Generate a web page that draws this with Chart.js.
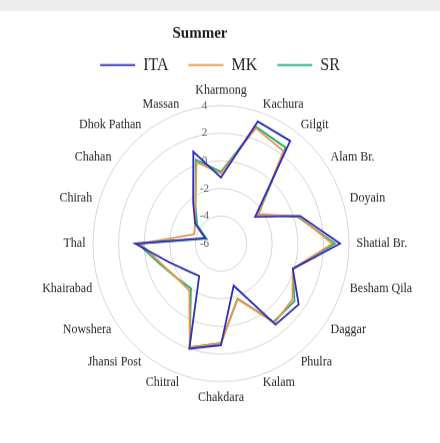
<!DOCTYPE html>
<html>
<head>
<meta charset="utf-8">
<title>Summer</title>
<script src="https://cdn.jsdelivr.net/npm/chart.js@4.4.1/dist/chart.umd.min.js"></script>
<style>
  html, body { margin: 0; padding: 0; background: #fff; }
  body { width: 440px; height: 443px; position: relative; overflow: hidden; }
  .top-strip { position: absolute; left: 0; top: 0; width: 440px; height: 11px; background: #ececec; }
  /* the plot is a little taller than wide, so the whole chart is stretched vertically */
  .chart-box { position: absolute; left: 0; top: 0; width: 440px; height: 411px; transform: scaleY(1.078); transform-origin: 0 0; }
</style>
</head>
<body>
<div class="top-strip"></div>
<div class="chart-box"><canvas id="radarChart"></canvas></div>
<script>
// stations, clockwise from the top
const stations = ['Kharmong', 'Kachura', 'Gilgit', 'Alam Br.', 'Doyain', 'Shatial Br.', 'Besham Qila',
  'Daggar', 'Phulra', 'Kalam', 'Chakdara', 'Chitral', 'Jhansi Post', 'Nowshera', 'Khairabad', 'Thal',
  'Chirah', 'Chahan', 'Dhok Pathan', 'Massan'];

// summer trend values per test
const itaValues = [-1.2, 3.3, 3.2, -2.7, 0.5, 3.3, -0.1, 1.5, 1.25, -2.8, 1.35, 2.0, -3.1, -2.7, -1.7, 0.7, -4.7, -3.5, -2.3, 1.0];
const mkValues = [-0.9, 2.8, 2.3, -2.4, 0.4, 2.7, -0.1, 0.9, 1.1, -1.8, 1.2, 1.9, -1.8, -1.75, -1.15, 0.3, -3.8, -3.5, -2.6, 0.2];
const srValues = [-0.8, 2.9, 2.6, -2.4, 0.3, 2.9, -0.1, 1.1, 1.0, -1.8, 1.2, 1.9, -2.0, -1.75, -1.05, 0.5, -4.8, -3.7, -2.6, 0.4];

const axisTicks = [-6, -4, -2, 0, 2, 4];

const serif = "'Liberation Serif', 'Times New Roman', serif";
Chart.defaults.font.family = serif;

// pull the title a bit left of the legend
const titleNudge = {
  id: 'titleNudge',
  afterLayout(chart) {
    chart.titleBlock.left -= 40;
  }
};

var ctx = document.getElementById('radarChart').getContext('2d');
var radarChart = new Chart(ctx, {
  type: 'radar',
  data: {
    labels: stations,
    datasets: [{
      label: 'ITA',
      data: itaValues,
      borderColor: '#2e2ebd',
      borderWidth: 1.8,
      fill: false,
      pointRadius: 0,
      pointHoverRadius: 0,
      clip: false
    },
    {
      label: 'MK',
      data: mkValues,
      borderColor: '#e8964a',
      borderWidth: 1.8,
      fill: false,
      pointRadius: 0,
      pointHoverRadius: 0,
      clip: false
    },
    {
      label: 'SR',
      data: srValues,
      borderColor: '#22ad78',
      borderWidth: 1.8,
      fill: false,
      pointRadius: 0,
      pointHoverRadius: 0,
      clip: false
    }]
  },
  options: {
    responsive: true,
    maintainAspectRatio: false,
    animation: false,
    devicePixelRatio: 1,
    plugins: {
      title: {
        display: true,
        text: 'Summer',
        color: '#1a1a1a',
        font: { family: serif, size: 15, weight: 'bold' },
        padding: { top: 22.5, bottom: -8.2 }
      },
      legend: {
        display: true,
        position: 'top',
        labels: {
          usePointStyle: true,
          pointStyle: 'line',
          pointStyleWidth: 35,
          padding: 20,
          color: '#262626',
          font: { family: serif, size: 16 }
        }
      },
      tooltip: { enabled: false }
    },
    scales: {
      r: {
        min: axisTicks[0],
        max: axisTicks[axisTicks.length - 1],
        // fixed centre and radius, the labels have the whole canvas to sit in
        afterSetDimensions: function (scale) {
          scale.left = 0;
          scale.top = 0;
          scale.right = scale.chart.width;
          scale.bottom = scale.chart.height;
          scale.xCenter = 221;
          scale.yCenter = 226;
          scale.drawingArea = 128;
        },
        afterBuildTicks: function (scale) {
          scale.ticks = axisTicks.map(v => ({ value: v }));
        },
        ticks: {
          color: '#595959',
          font: { family: serif, size: 11 },
          showLabelBackdrop: false,
          // trailing spaces push the numbers left of the vertical axis
          callback: value => value + '            '
        },
        grid: { circular: true, color: '#d6d6d6', lineWidth: 1 },
        angleLines: { display: false },
        pointLabels: {
          color: '#262626',
          // labels centred on their spoke; top and bottom ones kept clear of the ring
          padding: c => (c.index % 10 === 0 ? 7 : 0),
          font: { family: serif, size: 12, lineHeight: 0.01 }
        }
      }
    }
  },
  plugins: [titleNudge]
});
</script>
</body>
</html>
